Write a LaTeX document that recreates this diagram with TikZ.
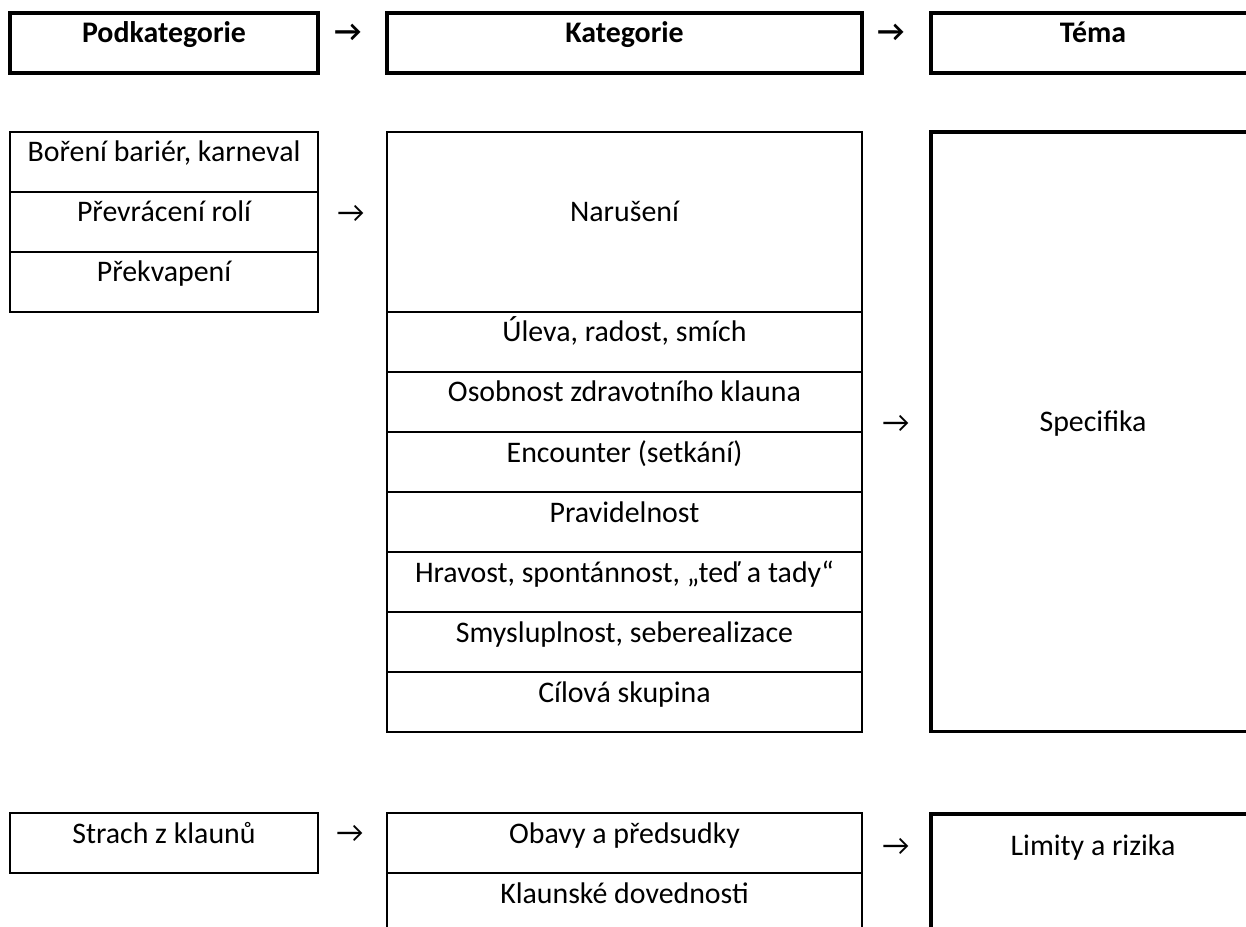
\documentclass[tikz,border=0pt]{standalone}
\usepackage{fontspec}
\setmainfont{Carlito}
\usetikzlibrary{positioning}
\newcommand\cellfont{\fontsize{17}{20.5}\selectfont}

\begin{document}
\begin{tikzpicture}[
      x=0.02cm, y=-0.02cm,
      box/.style={draw, inner sep=0pt, outer sep=0pt,
                  anchor=north, minimum height=1.2cm,
                  text height=0.35cm, text depth=0.35cm,
                  font=\cellfont},
      head/.style={box, line width=1.8pt,
                   font=\cellfont\bfseries},
      cell/.style={box, line width=0.9pt},
      themebox/.style={box, line width=1.8pt},
      subw/.style={minimum width=6.16cm},
      catw/.style={minimum width=9.5cm},
      themew/.style={minimum width=6.48cm},
      arr/.style={anchor=base, inner sep=0pt, font=\cellfont},
  ]
  \path[use as bounding box, clip] (0,0) rectangle (1246,926);
  % header row
  \node[head, subw] (hsub) at (164,13) {Podkategorie};
  \node[head, catw] (hcat) at (624.5,13) {Kategorie};
  \node[head, themew] (htema) at (1093,13) {Téma};
  \node[arr, font=\cellfont\bfseries] (ha1) at (348,42) {→};
  \node[arr, font=\cellfont\bfseries] (ha2) at (891,42) {→};
  % Specifika
  \node[cell, subw] (bor) at (164,132) {Boření bariér, karneval};
  \node[cell, subw] (prev) at (164,192) {Převrácení rolí};
  \node[cell, subw] (prek) at (164,252) {Překvapení};
  \node[arr] (a1) at (351,222) {→};
  \node[cell, catw, minimum height=3.6cm] (narus)
      at (624.5,132) {Narušení};
  \node[cell, catw] (uleva) at (624.5,312) {Úleva, radost, smích};
  \node[cell, catw] (osob) at (624.5,372)
      {Osobnost zdravotního klauna};
  \node[cell, catw] (enc) at (624.5,432) {Encounter (setkání)};
  \node[cell, catw] (prav) at (624.5,492) {Pravidelnost};
  \node[cell, catw] (hrav) at (624.5,552)
      {Hravost, spontánnost, „teď a tady“};
  \node[cell, catw] (smysl) at (624.5,612)
      {Smysluplnost, seberealizace};
  \node[cell, catw] (cil) at (624.5,672) {Cílová skupina};
  \node[arr] (a2) at (896,432) {→};
  \node[themebox, themew, minimum height=12cm] (spec)
      at (1093,132) {Specifika};
  % Limity a rizika
  \node[cell, subw] (strach) at (164,813) {Strach z klaunů};
  \node[arr] (a3) at (350,842) {→};
  \node[cell, catw] (obavy) at (624.5,813) {Obavy a předsudky};
  \node[cell, catw] (dov) at (624.5,873) {Klaunské dovednosti};
  \node[arr] (a4) at (896,855) {→};
  \node[themebox, themew, minimum height=2.4cm,
        text depth=1.11cm] (limity)
      at (1093,814) {Limity a rizika};
\end{tikzpicture}
\end{document}
